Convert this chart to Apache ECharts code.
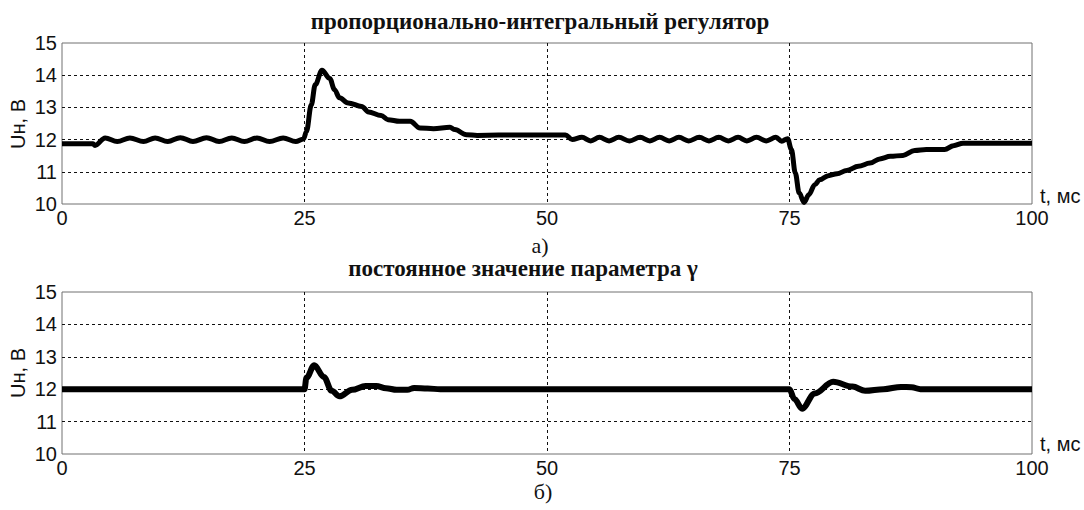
<!DOCTYPE html>
<html><head><meta charset="utf-8">
<script src="https://cdn.jsdelivr.net/npm/echarts@6/dist/echarts.min.js"></script>
<style>html,body{margin:0;padding:0;background:#fff}#c{width:1084px;height:510px}</style>
</head><body><div id="c"></div>
<script>
// ---- data ----
var xTicks = [0, 25, 50, 75, 100];
var yTicks = [10, 11, 12, 13, 14, 15];
var titleTop = 'пропорционально-интегральный регулятор';
var titleBottom = 'постоянное значение параметра γ';
var yName = 'Uн, В';
var xName = 't, мс';
var labelTop = 'а)';
var labelBottom = 'б)';

// top: PI regulator, time (ms) and load voltage (V)
var tPI = [0, 3.2, 3.4, 4.45, 5.7, 7.0, 8.4, 9.6, 10.9, 12.2, 13.5, 14.9, 16.2, 17.5, 18.8, 20.1, 21.4, 22.8, 24.1, 24.9,
  25.2, 25.7, 26.1, 26.8, 27.6, 28.1, 28.6, 29.5, 30.9, 31.6, 32.9, 33.6, 34.8, 35.9, 36.9, 38.3, 40.0, 40.5, 41.7, 42.8, 45, 48, 51.9,
  52.6, 53.6, 54.5, 55.4, 56.4, 57.4, 58.5, 59.6, 60.6, 61.6, 62.6, 63.6, 64.6, 65.7, 66.7, 67.7, 68.7, 69.7, 70.6, 71.6, 72.6, 73.6, 74.2, 74.8,
  75.2, 75.6, 76.0, 76.5, 77.0, 77.6, 78.1, 79.0, 79.9, 80.9, 82.1, 83.3, 84.3, 85.4, 86.7, 87.9, 89.1, 91.0, 91.9, 92.9, 100];
var uPI = [11.87, 11.87, 11.82, 12.05, 11.94, 12.05, 11.94, 12.05, 11.94, 12.06, 11.94, 12.06, 11.94, 12.05, 11.94, 12.05, 11.94, 12.05, 11.94, 12.02,
  12.25, 13.08, 13.7, 14.15, 13.9, 13.55, 13.3, 13.14, 13.03, 12.86, 12.75, 12.62, 12.57, 12.57, 12.36, 12.34, 12.38, 12.31, 12.15, 12.13, 12.14, 12.14, 12.14,
  12.0, 12.07, 11.96, 12.07, 11.96, 12.07, 11.96, 12.07, 11.96, 12.07, 11.96, 12.07, 11.96, 12.07, 11.96, 12.07, 11.96, 12.07, 11.96, 12.07, 11.96, 12.07, 11.95, 12.03,
  11.69, 10.96, 10.34, 10.05, 10.29, 10.6, 10.75, 10.88, 10.94, 11.04, 11.17, 11.27, 11.40, 11.48, 11.51, 11.66, 11.69, 11.69, 11.81, 11.89, 11.89];

// bottom: constant gamma
var tConst = [0, 25, 25.2, 26.0, 27.0, 27.8, 28.6, 29.9, 31.3, 32.4, 33.4, 34.5, 35.6, 36.3, 37.7, 39,
  75, 75.5, 76.3, 77.6, 79.5, 81.5, 82.8, 84.7, 86.5, 87.6, 88.5, 100];
var uConst = [12.0, 12.0, 12.35, 12.74, 12.38, 11.95, 11.78, 11.98, 12.1, 12.1, 12.03, 11.98, 11.98, 12.04, 12.02, 12.0,
  12.0, 11.7, 11.4, 11.87, 12.23, 12.08, 11.95, 12.0, 12.07, 12.06, 12.0, 12.0];

function pairs(t, u) { return t.map(function (v, i) { return [v, u[i]]; }); }

var sans = '"Liberation Sans", Arial, sans-serif';
var serif = '"Liberation Serif", "Times New Roman", serif';

function xAx(gi) {
  return {
    type: 'value', gridIndex: gi, min: xTicks[0], max: xTicks[xTicks.length - 1], interval: 25,
    axisLine: { show: false }, axisTick: { show: false },
    axisLabel: { color: '#111', fontFamily: sans, fontSize: 20, margin: 4 },
    splitLine: { show: true, showMinLine: false, showMaxLine: false, lineStyle: { color: '#111', type: [3, 3], width: 1 } }
  };
}
function yAx(gi) {
  return {
    type: 'value', gridIndex: gi, min: yTicks[0], max: yTicks[yTicks.length - 1], interval: 1,
    axisLine: { show: false }, axisTick: { show: false },
    axisLabel: { color: '#111', fontFamily: sans, fontSize: 20, margin: 5 },
    splitLine: { show: true, showMinLine: false, showMaxLine: false, lineStyle: { color: '#111', type: [3, 3], width: 1 } }
  };
}

var chart = echarts.init(document.getElementById('c'), null, { renderer: 'svg' });
chart.setOption({
  animation: false,
  backgroundColor: '#fff',
  grid: [
    { left: 62, right: 52, top: 43, height: 161, show: true, borderColor: '#707070', borderWidth: 1, backgroundColor: 'transparent' },
    { left: 62, right: 52, top: 292, height: 162, show: true, borderColor: '#707070', borderWidth: 1, backgroundColor: 'transparent' }
  ],
  xAxis: [xAx(0), xAx(1)],
  yAxis: [yAx(0), yAx(1)],
  series: [
    { type: 'line', xAxisIndex: 0, yAxisIndex: 0, data: pairs(tPI, uPI), showSymbol: false, symbol: 'none',
      smooth: 0.35, smoothMonotone: 'x', lineStyle: { color: '#000', width: 5 }, z: 5 },
    { type: 'line', xAxisIndex: 1, yAxisIndex: 1, data: pairs(tConst, uConst), showSymbol: false, symbol: 'none',
      smooth: 0.35, smoothMonotone: 'x', lineStyle: { color: '#000', width: 6 }, z: 5 }
  ],
  graphic: [
    { type: 'text', x: 540, y: 21, style: { text: titleTop, font: 'bold 23px ' + serif, fill: '#111', align: 'center', verticalAlign: 'middle' } },
    { type: 'text', x: 523, y: 268, style: { text: titleBottom, font: 'bold 23px ' + serif, fill: '#111', align: 'center', verticalAlign: 'middle' } },
    { type: 'text', x: 540, y: 245, style: { text: labelTop, font: '22px ' + serif, fill: '#111', align: 'center', verticalAlign: 'middle' } },
    { type: 'text', x: 543, y: 491, style: { text: labelBottom, font: '22px ' + serif, fill: '#111', align: 'center', verticalAlign: 'middle' } },
    { type: 'text', x: 1040, y: 196, style: { text: xName, font: '20px ' + sans, fill: '#111', align: 'left', verticalAlign: 'middle' } },
    { type: 'text', x: 1040, y: 444, style: { text: xName, font: '20px ' + sans, fill: '#111', align: 'left', verticalAlign: 'middle' } },
    { type: 'text', x: 18, y: 124, rotation: Math.PI / 2, style: { text: yName, font: '20px ' + sans, fill: '#111', align: 'center', verticalAlign: 'middle' } },
    { type: 'text', x: 18, y: 373, rotation: Math.PI / 2, style: { text: yName, font: '20px ' + sans, fill: '#111', align: 'center', verticalAlign: 'middle' } }
  ]
});
</script></body></html>
